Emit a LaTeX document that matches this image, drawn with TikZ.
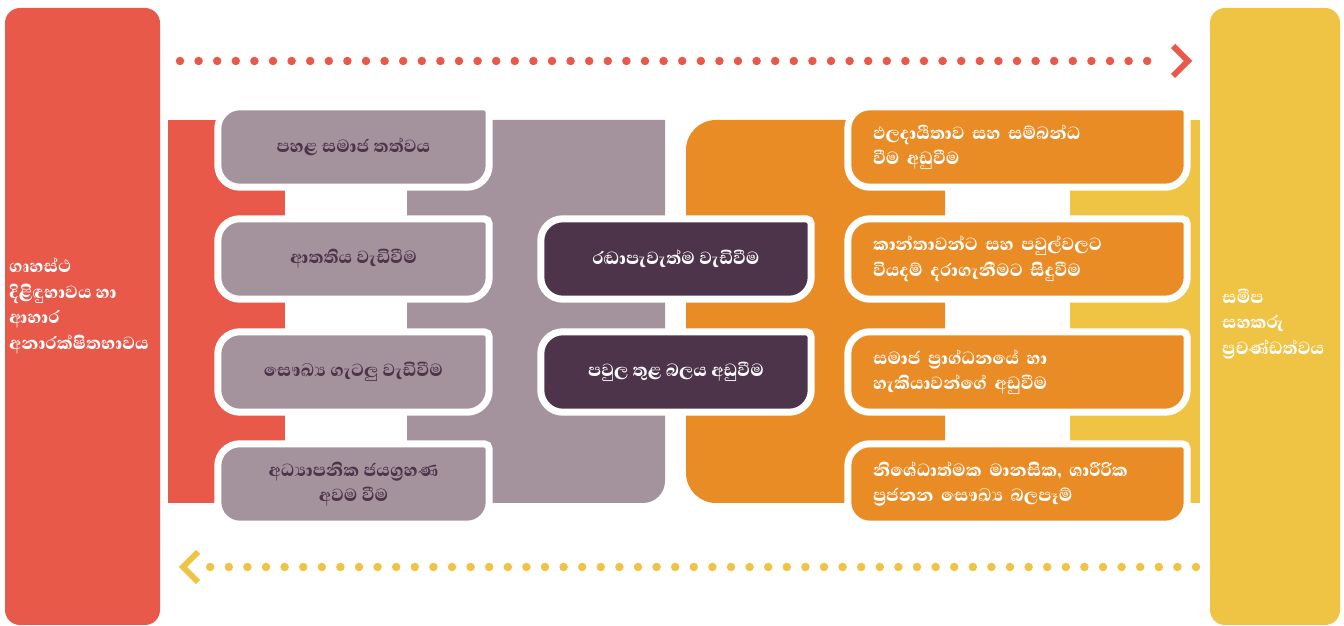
\documentclass[tikz,border=0pt]{standalone}
\usepackage{fontspec}
\newfontfamily\sinfont[Script=Sinhala, BoldFont={Abhaya Libre ExtraBold}]{Abhaya Libre}
\usetikzlibrary{backgrounds,calc}
\definecolor{cred}{HTML}{E8594A}
\definecolor{cyel}{HTML}{EFC343}
\definecolor{cgrey}{HTML}{A4939D}
\definecolor{cdark}{HTML}{4E344B}
\definecolor{corg}{HTML}{EA8C25}
\newcommand\bshape[2]{%
  \path[fill=#2, draw=white, line width=7pt]
    let \p1=(#1.south west), \p2=(#1.north east) in
    (\x1,\y1+22pt) -- (\x1,\y2-22pt) arc[start angle=180,end angle=90,radius=22pt]
    -- (\x2-5pt,\y2) arc[start angle=90,end angle=0,radius=5pt]
    -- (\x2,\y1+22pt) arc[start angle=0,end angle=-90,radius=22pt]
    -- (\x1+22pt,\y1) arc[start angle=270,end angle=180,radius=22pt] -- cycle;}
\begin{document}
\begin{tikzpicture}[x=1pt,y=1pt,
  lbl/.style={font=\sinfont\bfseries\fontsize{22.5}{25.5}\selectfont, inner sep=0pt},
  gbox/.style={lbl, minimum width=271pt, minimum height=80pt, text=cdark, align=center},
  dbox/.style={lbl, minimum width=270pt, minimum height=80pt, text=white, align=center},
  obox/.style={lbl, inner xsep=25pt, text width=289pt, minimum height=80pt, text=white, align=left},
  bartext/.style={lbl, text=white, align=left},
  dots/.style={line width=8.5pt, line cap=round, dash pattern=on 0pt off 18.6pt},
  chev/.style={line width=6pt, miter limit=10}]
\useasboundingbox (0,0) rectangle (1344,626);
% boxes (text)
\node[gbox] (g1) at (353.5,479) {පහළ සමාජ තත්වය};
\node[gbox] (g2) at (353.5,367) {ආතතිය වැඩිවීම};
\node[gbox] (g3) at (353.5,254) {සෞඛ්^^^^200dය ගැටලු වැඩිවීම};
\node[gbox] (g4) at (353.5,142) {අධ්^^^^200dයාපනික ජයග්^^^^200dරහණ\\අවම වීම};
\node[dbox] (d1) at (676,367) {රඬාපැවැත්ම වැඩිවීම};
\node[dbox] (d2) at (676,254) {පවුල තුළ බලය අඩුවීම};
\node[obox] (o1) at (1017.5,479) {ඵලදායීතාව සහ සම්බන්ධ\\වීම අඩුවීම};
\node[obox] (o2) at (1017.5,367) {කාන්තාවන්ට සහ පවුල්වලට\\වියදම් දරාගැනීමට සිදුවීම};
\node[obox] (o3) at (1017.5,254) {සමාජ ප්^^^^200dරාග්ධනයේ හා\\හැකියාවන්ගේ අඩුවීම};
\node[obox] (o4) at (1017.5,142) {නිශේධාත්මක මානසික, ශාරීරික\\ප්^^^^200dරජනන සෞඛ්^^^^200dය බලපෑම්};
\node[bartext, anchor=west] (lt) at (9,320) {ගෘහස්ථ\\දිළිඳුභාවය හා\\ආහාර\\අනාරක්ෂිතභාවය};
\node[bartext, anchor=west] (rt) at (1222,302) {සමීප\\සහකරු\\ප්^^^^200dරචණ්ඩත්වය};
% arrows
\coordinate (a1s) at (180,565);
\coordinate (a1e) at (1165,565);
\coordinate (c1) at (1188,565);
\draw[dots, cred] (a1s) -- (a1e);
\draw[chev, cred] ($(c1)+(-15,15)$) -- (c1) -- ($(c1)+(-15,-15)$);
\coordinate (a2s) at (1196,59);
\coordinate (a2e) at (206,59);
\coordinate (c2) at (183,59);
\draw[dots, cyel] (a2s) -- (a2e);
\draw[chev, cyel] ($(c2)+(15,15)$) -- (c2) -- ($(c2)+(15,-15)$);
\begin{scope}[on background layer]
  \fill[cred, rounded corners=15pt] (5,1) rectangle (160,618);
  \fill[cyel, rounded corners=15pt] (1210,1) rectangle (1340,618);
  \fill[cred] (168,123) rectangle (285,506);
  \fill[cgrey] (407,506) -- (665,506) -- (665,145) arc[start angle=0,end angle=-90,radius=22pt] -- (407,123) -- cycle;
  \fill[corg] (945,506) -- (716,506) arc[start angle=90,end angle=180,radius=30pt] -- (686,153) arc[start angle=180,end angle=270,radius=30pt] -- (945,123) -- cycle;
  \fill[cyel] (1070,123) rectangle (1200,506);
  \bshape{g1}{cgrey}\bshape{g2}{cgrey}\bshape{g3}{cgrey}\bshape{g4}{cgrey}
  \bshape{d1}{cdark}\bshape{d2}{cdark}
  \bshape{o1}{corg}\bshape{o2}{corg}\bshape{o3}{corg}\bshape{o4}{corg}
\end{scope}
\end{tikzpicture}
\end{document}
